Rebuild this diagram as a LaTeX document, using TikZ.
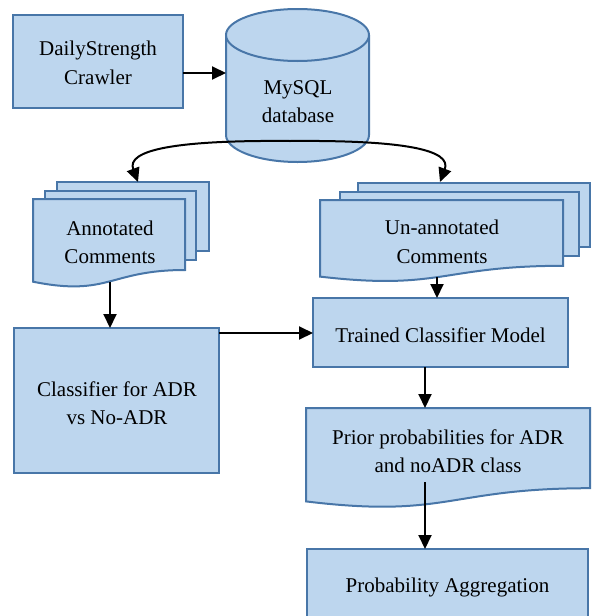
\documentclass[tikz,border=0pt]{standalone}
\usepackage{fontspec}
\setmainfont{Liberation Serif}
\usetikzlibrary{arrows.meta}
\definecolor{fillcol}{RGB}{189,214,238}
\definecolor{bordercol}{RGB}{72,118,168}
\tikzset{
  shapebox/.style={draw=bordercol, fill=fillcol, line width=2pt, line join=miter},
  flow/.style={draw=black, line width=2pt, -{Triangle[length=14pt,width=13pt]}},
  lbl/.style={font=\fontsize{21}{28.5}\selectfont, align=center, inner sep=0pt}
}
\begin{document}
\begin{tikzpicture}[x=1pt,y=-1pt]
\useasboundingbox (0,0) rectangle (592,616);
\clip (0,0) rectangle (592,616);

% crawler box
\draw[shapebox] (13,15) rectangle (183,108);
\node[lbl] (crawler) at (98,63) {DailyStrength\\Crawler};

% database cylinder
\fill[fillcol] (226,35) rectangle (369,135);
\draw[shapebox] (226,35) -- (226,135)
  .. controls (226,149.9) and (258,162) .. (297.5,162)
  .. controls (337,162) and (369,149.9) .. (369,135) -- (369,35);
\draw[shapebox] (297.5,35) ellipse [x radius=71.5, y radius=26];
\node[lbl] (db) at (298,101.5) {MySQL\\database};

% annotated comments (stacked documents)
\draw[shapebox] (57,182) rectangle (209,251);
\draw[shapebox] (45,191) rectangle (196,260);
\draw[shapebox] (33,199) -- (185,199) -- (185,270)
  .. controls (109,270) and (109,297) .. (33,281.7) -- cycle;
\node[lbl] (ann) at (110,242.5) {Annotated\\Comments};

% un-annotated comments (stacked documents)
\draw[shapebox] (358,183) rectangle (590,247);
\draw[shapebox] (340,192) rectangle (579,256);
\draw[shapebox] (320,200) -- (563,200) -- (563,265.8)
  .. controls (441.5,265.8) and (441.5,290.8) .. (320,276.6) -- cycle;
\node[lbl] (unann) at (442,242) {Un-annotated\\Comments};

% classifier box
\draw[shapebox] (14,328) rectangle (219,473);
\node[lbl] (clf) at (117,403) {Classifier for ADR\\vs No-ADR};

% trained model box
\draw[shapebox] (313,298) rectangle (568,367);
\node[lbl] (model) at (440.5,335) {Trained Classifier Model};

% prior probabilities document
\draw[shapebox] (306,408) -- (590,408) -- (590,488.2)
  .. controls (448,488.2) and (448,518.7) .. (306,501.4) -- cycle;
\node[lbl] (prior) at (448,451) {Prior probabilities for ADR\\and noADR class};

% aggregation box
\draw[shapebox] (307,549) rectangle (588,630);
\node[lbl] (agg) at (447.5,587) {Probability Aggregation};

% connector end points
\coordinate (crawlerE) at (183,73);
\coordinate (dbW) at (226,73);
\coordinate (dbS) at (290,141);
\coordinate (annN) at (138,182);
\coordinate (unannN) at (440,182);
\coordinate (annS) at (110,282);
\coordinate (clfN) at (110,328);
\coordinate (clfE) at (219,333);
\coordinate (modelW) at (313,333);
\coordinate (unannS) at (437,277);
\coordinate (modelN) at (437,298);
\coordinate (modelS) at (425,367);
\coordinate (priorN) at (425,408);
\coordinate (priorS) at (425,482);
\coordinate (aggN) at (425,549);

% connectors
\draw[flow] (crawlerE) -- (dbW);
\draw[flow] (dbS) .. controls (175,140) and (126,150) .. (annN);
\draw[flow] (dbS) .. controls (405,140) and (452,150) .. (unannN);
\draw[flow] (annS) -- (clfN);
\draw[flow] (clfE) -- (modelW);
\draw[flow] (unannS) -- (modelN);
\draw[flow] (modelS) -- (priorN);
\draw[flow] (priorS) -- (aggN);
\end{tikzpicture}
\end{document}
